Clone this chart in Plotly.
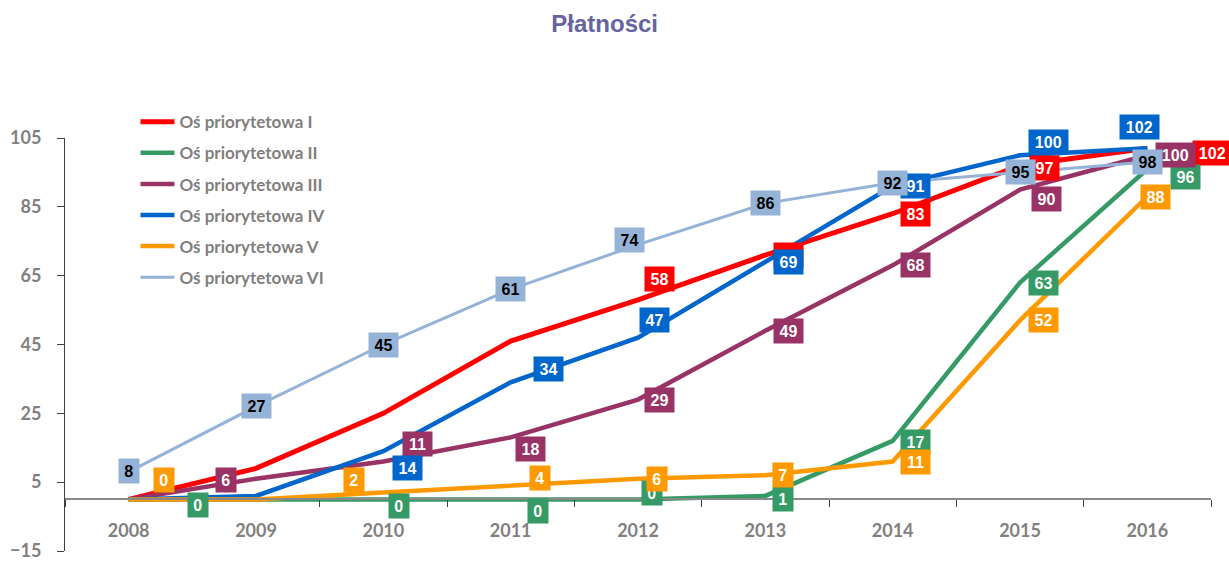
import plotly.graph_objects as go

years = ["2008", "2009", "2010", "2011", "2012", "2013", "2014", "2015", "2016"]

os_1 = [0, 9, 25, 46, 58, 71, 83, 97, 102]
os_2 = [0, 0, 0, 0, 0, 1, 17, 63, 96]
os_3 = [0, 6, 11, 18, 29, 49, 68, 90, 100]
os_4 = [0, 1, 14, 34, 47, 69, 91, 100, 102]
os_5 = [0, 0, 2, 4, 6, 7, 11, 52, 88]
os_6 = [8, 27, 45, 61, 74, 86, 92, 95, 98]

names = ["Oś priorytetowa I", "Oś priorytetowa II", "Oś priorytetowa III",
         "Oś priorytetowa IV", "Oś priorytetowa V", "Oś priorytetowa VI"]

# label placement (year index, dx px, dy px down) per series
label_pos = [
    [(4, 21, -21), (5, 23, 0), (6, 23, 0), (7, 24, 2), (8, 65, 5)],
    [(1, -58, 6), (2, 16, 7), (3, 27, 12), (4, 14, -6), (5, 18, 3),
     (6, 23, 1), (7, 23, 0), (8, 38, 8)],
    [(1, -30, 1), (2, 34, -18), (3, 20, 12), (4, 21, 0), (5, 23, 0),
     (6, 23, 0), (7, 26, 9), (8, 28, 0)],
    [(2, 24, 17), (3, 38, -13), (4, 16, -18), (5, 23, 0), (6, 23, 0),
     (7, 28, -13), (8, -8, -21)],
    [(0, 35, -19), (2, -29, -12), (3, 29, -8), (4, 19, 0), (5, 18, 0),
     (6, 23, 0), (7, 23, 0), (8, 8, 0)],
    [(0, 0, -1), (1, 0, 0), (2, 0, 0), (3, 0, 0), (4, -9, -5), (5, 0, 0),
     (6, 0, 0), (7, 0, 0), (8, 0, 0)],
]
# labels covered by another box in the original (only the box edge shows)
hidden = {(0, 5)}

colors = ["#ff0000", "#359a66", "#993366", "#0066cc", "#ff9900", "#95b3d7"]
widths = [5, 4.5, 4.5, 4.5, 4.5, 3]
text_colors = ["white", "white", "white", "white", "white", "black"]

series = [os_1, os_2, os_3, os_4, os_5, os_6]

fig = go.Figure()
annotations = []
for i, vals in enumerate(series):
    fig.add_trace(go.Scatter(x=years, y=vals, mode="lines", name=names[i],
                             legendgroup=str(i),
                             line=dict(color=colors[i], width=widths[i])))
    for idx, dx, dy in label_pos[i]:
        txt = str(round(vals[idx]))
        w = 10 + 9.5 * len(txt)
        if (i, idx) in hidden:
            txt = " "
        # category axis: annotation x is the category index
        annotations.append(dict(
            x=idx, y=vals[idx], xref="x", yref="y",
            text=txt, showarrow=False, xshift=dx, yshift=-dy,
            bgcolor=colors[i], borderpad=0,
            width=w, height=24,
            font=dict(family="Liberation Sans", size=16, color=text_colors[i],
                      weight="bold")))

fig.update_layout(
    width=1229, height=561,
    paper_bgcolor="white", plot_bgcolor="white",
    margin=dict(l=65, r=18, t=138, b=10),
    title=dict(text="Płatności", x=0.492, xanchor="center",
               y=1 - 24 / 561, yanchor="middle",
               font=dict(family="Liberation Sans", size=24, color="#6464a0",
                         weight="bold")),
    showlegend=True,
    legend=dict(x=0.0615, y=1.082, xanchor="left", yanchor="top",
                bgcolor="rgba(0,0,0,0)", tracegroupgap=6, itemwidth=34,
                font=dict(family="Lato", size=17, color="#7f7f7f",
                          weight="bold")),
    annotations=annotations,
    xaxis=dict(type="category", range=[-0.5, 8.5], anchor="free",
               position=15 / 120, showline=True, linecolor="#888888",
               linewidth=1.5, ticks="outside", tickson="boundaries",
               ticklen=7, tickcolor="#404040", showgrid=False,
               zeroline=False, ticklabelstandoff=15, automargin=False,
               tickfont=dict(family="Lato", size=18, color="#808080",
                             weight="bold")),
    yaxis=dict(range=[-15, 105], tickvals=[-15, 5, 25, 45, 65, 85, 105],
               showline=True, linecolor="#404040", linewidth=1,
               ticks="outside", ticklen=7, tickcolor="#404040",
               showgrid=False, zeroline=False, ticklabelstandoff=12,
               ticklabeloverflow="allow", automargin=False,
               tickfont=dict(family="Lato", size=18, color="#808080",
                             weight="bold")),
)

fig.write_html("out.html", config={"displayModeBar": False},
               post_script="document.body.style.margin='0';")
